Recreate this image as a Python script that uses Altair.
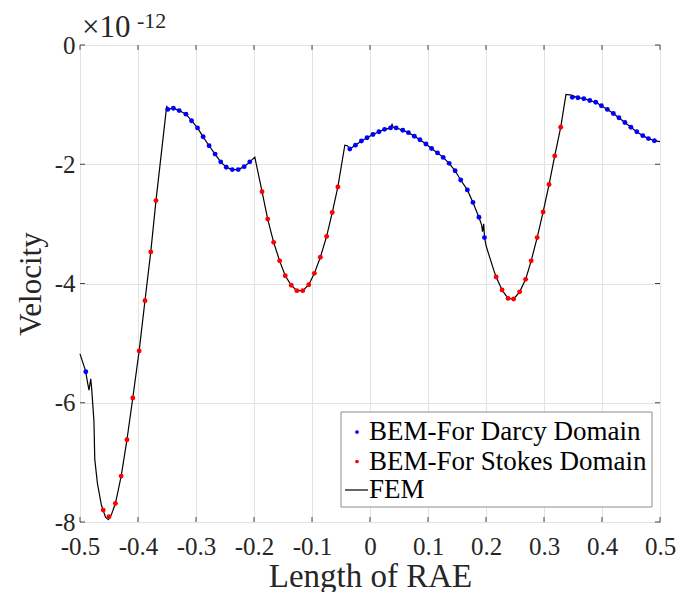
import altair as alt
import pandas as pd

# ---------------- data ----------------
x_ticks = [-0.5, -0.4, -0.3, -0.2, -0.1, 0.0, 0.1, 0.2, 0.3, 0.4, 0.5]
y_ticks = [-8, -6, -4, -2, 0]

darcy_x = [-0.490,
           -0.3487, -0.339, -0.329, -0.3173, -0.3077, -0.2974, -0.2877, -0.2774, -0.2671, -0.2574,
           -0.2478, -0.2375, -0.2272, -0.2169, -0.2072,
           -0.0348, -0.0251, -0.0148, -0.0051, 0.0051, 0.0154, 0.0251, 0.0354, 0.0451, 0.0565,
           0.0662, 0.0765, 0.0861, 0.0964, 0.1062, 0.1164, 0.1262, 0.1365, 0.1467, 0.1564,
           0.1678, 0.1775, 0.1878, 0.1974,
           0.3488, 0.3584, 0.3687, 0.379, 0.3892, 0.399, 0.4092, 0.4195, 0.4292, 0.4395,
           0.4498, 0.46, 0.4703, 0.48, 0.4903]
darcy_y = [-5.48,
           -1.08, -1.06, -1.10, -1.16, -1.27, -1.39, -1.54, -1.69, -1.83, -1.96,
           -2.05, -2.09, -2.09, -2.04, -1.96,
           -1.745, -1.68, -1.61, -1.555, -1.50, -1.455, -1.415, -1.39, -1.39, -1.43,
           -1.47, -1.53, -1.59, -1.66, -1.735, -1.81, -1.885, -1.985, -2.11, -2.265,
           -2.43, -2.64, -2.89, -3.23,
           -0.878, -0.884, -0.90, -0.93, -0.96, -1.02, -1.08, -1.15, -1.22, -1.30,
           -1.38, -1.455, -1.52, -1.57, -1.605]

stokes_x = [-0.460, -0.450, -0.439, -0.429, -0.419, -0.409, -0.398, -0.388, -0.378, -0.369,
            -0.1861, -0.1764, -0.1661, -0.1558, -0.1461, -0.1358, -0.1262, -0.1159, -0.1056,
            -0.0959, -0.0856, -0.0748, -0.0651, -0.0554,
            0.2175, 0.2277, 0.238, 0.2477, 0.258, 0.2683, 0.2779, 0.2882, 0.2985, 0.3087,
            0.3185, 0.3288]
stokes_y = [-7.80, -7.91, -7.69, -7.23, -6.62, -5.92, -5.13, -4.29, -3.47, -2.61,
            -2.46, -2.92, -3.31, -3.62, -3.87, -4.03, -4.12, -4.12, -4.02,
            -3.83, -3.56, -3.21, -2.81, -2.38,
            -3.89, -4.11, -4.25, -4.26, -4.14, -3.93, -3.62, -3.23, -2.80, -2.34,
            -1.86, -1.38]

fem_x = [-0.500, -0.4905, -0.487, -0.4845, -0.4815, -0.480, -0.476, -0.4745, -0.470, -0.463,
         -0.456, -0.451, -0.446, -0.439, -0.429, -0.419, -0.409, -0.398, -0.388, -0.378, -0.369,
         -0.3505, -0.3487, -0.339, -0.329, -0.3173, -0.3077, -0.2974, -0.2877, -0.2774, -0.2671,
         -0.2574, -0.2478, -0.2375, -0.2272, -0.2169, -0.2072, -0.1986,
         -0.1861, -0.1764, -0.1661, -0.1558, -0.1461, -0.1358, -0.1262, -0.1159, -0.1056,
         -0.0959, -0.0856, -0.0748, -0.0651, -0.0554, -0.0434, -0.039,
         -0.0348, -0.0251, -0.0148, -0.0051, 0.0051, 0.0154, 0.0251, 0.0354, 0.038, 0.040,
         0.0451, 0.0565, 0.0662, 0.0765, 0.0861, 0.0964, 0.1062, 0.1164, 0.1262, 0.1365,
         0.1467, 0.1564, 0.1678, 0.1775, 0.1878, 0.1925, 0.1940, 0.1960, 0.1975, 0.2005,
         0.2135, 0.2175, 0.2277, 0.238, 0.2477, 0.258, 0.2683, 0.2779, 0.2882, 0.2985,
         0.3087, 0.3185, 0.3288, 0.3379, 0.3476,
         0.3584, 0.3687, 0.379, 0.3892, 0.399, 0.4092, 0.4195, 0.4292, 0.4395, 0.4498,
         0.46, 0.4703, 0.48, 0.4903, 0.500]
fem_y = [-5.18, -5.46, -5.66, -5.79, -5.60, -5.75, -6.30, -6.95, -7.35, -7.72,
         -7.92, -7.96, -7.88, -7.69, -7.23, -6.62, -5.92, -5.13, -4.29, -3.47, -2.61,
         -1.02, -1.08, -1.06, -1.10, -1.16, -1.27, -1.39, -1.54, -1.69, -1.83,
         -1.96, -2.05, -2.09, -2.09, -2.04, -1.96, -1.88,
         -2.46, -2.92, -3.31, -3.62, -3.87, -4.03, -4.12, -4.12, -4.02,
         -3.83, -3.56, -3.21, -2.81, -2.38, -1.68, -1.69,
         -1.745, -1.68, -1.61, -1.555, -1.50, -1.455, -1.415, -1.39, -1.33, -1.38,
         -1.39, -1.43, -1.47, -1.53, -1.59, -1.66, -1.735, -1.81, -1.885, -1.985,
         -2.11, -2.265, -2.43, -2.64, -2.89, -3.02, -3.13, -3.00, -3.23, -3.38,
         -3.78, -3.89, -4.11, -4.25, -4.26, -4.14, -3.93, -3.62, -3.23, -2.80,
         -2.34, -1.86, -1.38, -0.83, -0.84,
         -0.884, -0.90, -0.93, -0.96, -1.02, -1.08, -1.15, -1.22, -1.30, -1.38,
         -1.455, -1.52, -1.57, -1.605, -1.62]

legend_labels = ["BEM-For Darcy Domain", "BEM-For Stokes Domain", "FEM"]
legend_colors = ["#0000ff", "#ff0000", "#000000"]

# ---------------- chart ----------------
W, H = 580, 477
FONT = "Liberation Serif, Times New Roman, serif"
TXT = "#262626"

xs = alt.Scale(domain=[-0.5, 0.5], nice=False, zero=False)
ys = alt.Scale(domain=[-8, 0], nice=False, zero=False)

x_axis = alt.Axis(values=x_ticks, title="Length of RAE",
                  labelExpr="datum.value == 0 ? '0' : toString(round(datum.value * 10) / 10)",
                  labelPadding=12, titlePadding=1, labelFlush=False, titleFontSize=33)
y_axis = alt.Axis(values=y_ticks, title="Velocity",
                  labelExpr="toString(datum.value)", labelPadding=5, titlePadding=7,
                  titleFontSize=31)

fem_df = pd.DataFrame({"x": fem_x, "y": fem_y, "i": list(range(len(fem_x)))})
darcy_df = pd.DataFrame({"x": darcy_x, "y": darcy_y})
stokes_df = pd.DataFrame({"x": stokes_x, "y": stokes_y})

line = alt.Chart(fem_df).mark_line(color="#000000", strokeWidth=1.2).encode(
    x=alt.X("x:Q", scale=xs, axis=x_axis),
    y=alt.Y("y:Q", scale=ys, axis=y_axis),
    order="i:Q",
)
darcy = alt.Chart(darcy_df).mark_circle(color=legend_colors[0], size=24, opacity=1).encode(
    x=alt.X("x:Q", scale=xs), y=alt.Y("y:Q", scale=ys))
stokes = alt.Chart(stokes_df).mark_circle(color=legend_colors[1], size=24, opacity=1).encode(
    x=alt.X("x:Q", scale=xs), y=alt.Y("y:Q", scale=ys))

# inward tick marks on all four sides (MATLAB box style)
xt_df = pd.DataFrame({"v": x_ticks})
yt_df = pd.DataFrame({"v": y_ticks})
tk = dict(color="#444444", strokeWidth=1)
xt_bottom = alt.Chart(xt_df).mark_rule(**tk).encode(
    x=alt.X("v:Q", scale=xs), y=alt.value(H), y2=alt.value(H - 5))
xt_top = alt.Chart(xt_df).mark_rule(**tk).encode(
    x=alt.X("v:Q", scale=xs), y=alt.value(0), y2=alt.value(5))
yt_left = alt.Chart(yt_df).mark_rule(**tk).encode(
    y=alt.Y("v:Q", scale=ys), x=alt.value(0), x2=alt.value(5))
yt_right = alt.Chart(yt_df).mark_rule(**tk).encode(
    y=alt.Y("v:Q", scale=ys), x=alt.value(W), x2=alt.value(W - 5))

# exponent annotation
one = pd.DataFrame({"a": [0]})
exp_base = alt.Chart(pd.DataFrame({"t": ["×10"]})).mark_text(
    align="left", baseline="alphabetic", font=FONT, fontSize=31, color=TXT).encode(
    x=alt.value(2), y=alt.value(-8), text="t:N")
exp_pow = alt.Chart(pd.DataFrame({"t": ["-12"]})).mark_text(
    align="left", baseline="alphabetic", font=FONT, fontSize=22, color=TXT).encode(
    x=alt.value(57), y=alt.value(-17), text="t:N")

# legend box
LX0, LX1, LY0, LY1 = 261, 572, 367, 462
box = alt.Chart(one).mark_rect(fill="white", stroke="#8c8c8c", strokeWidth=1).encode(
    x=alt.value(LX0), x2=alt.value(LX1), y=alt.value(LY0), y2=alt.value(LY1))
rows = [387, 416.5, 445]
leg_layers = [box]
for k, (lab, col) in enumerate(zip(legend_labels, legend_colors)):
    if k < 2:
        leg_layers.append(alt.Chart(one).mark_circle(color=col, size=14, opacity=1).encode(
            x=alt.value(277), y=alt.value(rows[k])))
    else:
        leg_layers.append(alt.Chart(one).mark_rule(color=col, strokeWidth=1.2).encode(
            x=alt.value(265), x2=alt.value(288), y=alt.value(rows[k])))
    leg_layers.append(alt.Chart(pd.DataFrame({"t": [lab]})).mark_text(
        align="left", baseline="middle", font=FONT, fontSize=27, color="#000000").encode(
        x=alt.value(289), y=alt.value(rows[k]), text="t:N"))

chart = alt.layer(
    line, darcy, stokes, xt_bottom, xt_top, yt_left, yt_right,
    exp_base, exp_pow, *leg_layers
).properties(
    width=W, height=H,
    background="white",
    autosize=alt.AutoSizeParams(type="none"),
    padding={"left": 72, "top": 37, "right": 16, "bottom": 70},
).configure_view(
    stroke="#444444", strokeWidth=1
).configure_axis(
    grid=True, gridColor="#e3e3e3", gridWidth=1,
    domain=False, ticks=False,
    labelFont=FONT, labelFontSize=25, labelColor=TXT,
    titleFont=FONT, titleFontSize=30, titleColor=TXT, titleFontWeight="normal",
)

chart.save("out.html", embed_options={"renderer": "svg", "actions": False})
